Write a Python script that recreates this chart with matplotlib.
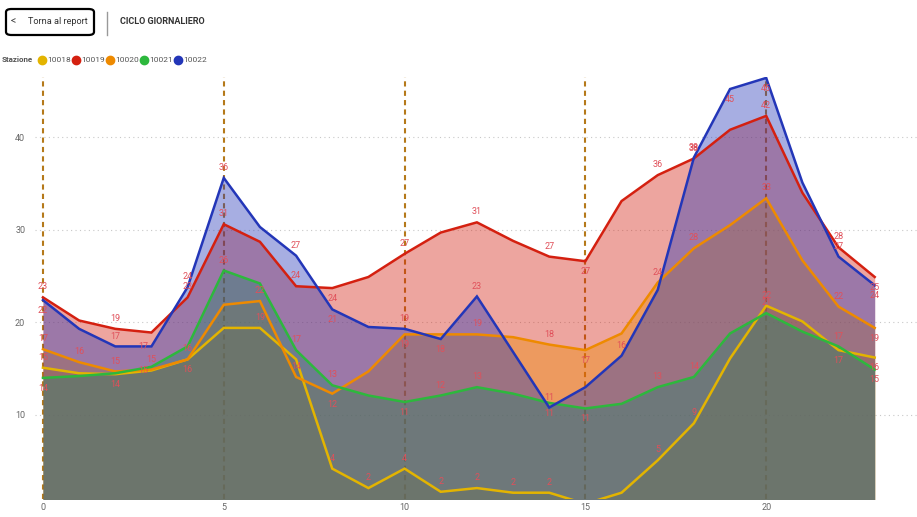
import numpy as np
import matplotlib
matplotlib.use("Agg")
import matplotlib.pyplot as plt
from matplotlib.patches import FancyBboxPatch
from matplotlib.lines import Line2D

plt.rcParams['font.family'] = ['Roboto', 'DejaVu Sans']

hours = list(range(24))
stations = ['10018', '10019', '10020', '10021', '10022']

v10018 = [15.1, 14.5, 14.4, 14.8, 16.0, 19.4, 19.4, 16.0, 4.2, 2.1, 4.2, 1.7, 2.1, 1.6,
          1.6, 0.4, 1.6, 5.1, 9.1, 16.1, 21.8, 20.1, 17.0, 16.2]
v10019 = [22.7, 20.2, 19.3, 18.9, 22.7, 30.6, 28.7, 23.9, 23.7, 24.9, 27.4, 29.7, 30.8, 28.8,
          27.1, 26.6, 33.1, 35.9, 37.7, 40.8, 42.3, 34.0, 28.1, 24.9]
v10020 = [17.1, 15.7, 14.7, 14.9, 16.0, 21.9, 22.3, 14.1, 12.3, 14.7, 18.7, 18.7, 18.7, 18.4,
          17.6, 17.0, 18.8, 24.3, 28.0, 30.5, 33.4, 26.7, 21.7, 19.4]
v10021 = [14.0, 14.2, 14.5, 15.2, 17.4, 25.6, 24.2, 17.0, 13.2, 12.1, 11.4, 12.1, 13.0, 12.3,
          11.3, 10.7, 11.2, 13.0, 14.1, 18.8, 21.0, 19.0, 17.4, 14.9]
v10022 = [22.4, 19.3, 17.4, 17.4, 23.8, 35.6, 30.3, 27.2, 21.4, 19.5, 19.3, 18.2, 22.8, 16.8,
          10.8, 13.0, 16.4, 23.5, 37.8, 45.2, 46.4, 35.1, 27.1, 24.0]
values = [v10018, v10019, v10020, v10021, v10022]
colors = ['#E3B400', '#D42010', '#EE8A00', '#2DB83D', '#2336B8']

# which points show a data label: a = above, b = below, c = on the line
label_pos = [
    {0: 'a', 2: 'b', 3: 'c', 4: 'b', 6: 'a', 8: 'a', 9: 'a', 10: 'a', 11: 'a', 12: 'a',
     13: 'a', 14: 'a', 17: 'a', 18: 'a', 20: 'a', 22: 'b', 23: 'b'},
    {0: 'a', 2: 'a', 4: 'a', 5: 'a', 7: 'a', 8: 'b', 10: 'a', 12: 'a', 14: 'a', 15: 'b',
     17: 'a', 18: 'a', 20: 'a', 22: 'a', 23: 'b'},
    {0: 'a', 1: 'a', 2: 'a', 3: 'a', 4: 'a', 6: 'a', 7: 'a', 8: 'b', 10: 'b', 12: 'a',
     14: 'a', 15: 'b', 17: 'a', 18: 'a', 20: 'a', 22: 'a', 23: 'b'},
    {0: 'b', 5: 'a', 7: 'a', 8: 'a', 10: 'b', 11: 'a', 12: 'a', 14: 'b', 15: 'b', 17: 'a',
     18: 'a', 20: 'a', 22: 'a', 23: 'b'},
    {0: 'b', 2: 'a', 3: 'c', 4: 'a', 5: 'a', 7: 'a', 8: 'b', 10: 'a', 11: 'b', 12: 'a',
     14: 'a', 16: 'a', 18: 'a', 19: 'b', 20: 'b', 22: 'a', 23: 'b'},
]
label_color = '#E0505A'

fig = plt.figure(figsize=(9.17, 5.17), dpi=100)
ax = fig.add_axes([35 / 917, 18 / 517, 882 / 917, 422 / 517])

for h in [0, 5, 10, 15, 20]:
    ax.axvline(h, color='#B5791A', lw=1.5, ls=(0, (2.5, 2)), zorder=0.5)

for vals, c in zip(values, colors):
    ax.fill_between(hours, vals, -5, color=c, alpha=0.4, lw=0, zorder=1)
for vals, c in zip(values, colors):
    ax.plot(hours, vals, color=c, lw=1.8, zorder=2, solid_joinstyle='miter')

for vals, pos in zip(values, label_pos):
    for h, p in pos.items():
        dy = {'a': 7.5, 'b': -7.5, 'c': 0}[p]
        dx = -6 if p == 'c' else 0
        ax.annotate(str(int(round(vals[h]))), (h, vals[h]), xytext=(dx, dy),
                    textcoords='offset points', ha='center', va='center',
                    fontsize=6.5, color=label_color, zorder=3)

ax.set_xlim(-0.22, 24.17)
ax.set_ylim(0.92, 46.5)
ax.set_xticks([0, 5, 10, 15, 20])
ax.set_yticks([10, 20, 30, 40])
ax.yaxis.grid(True, color='#C8C8C8', ls=(0, (1, 3)), lw=0.8)
ax.set_axisbelow(True)
for s in ax.spines.values():
    s.set_visible(False)
ax.tick_params(length=0, labelsize=6.5, labelcolor='#666666')
ax.tick_params(axis='y', pad=7)
ax.tick_params(axis='x', pad=3)

# header
W, H = 917, 517
btn = FancyBboxPatch((6 / W, 1 - 35 / H), 88 / W, 26 / H, transform=fig.transFigure,
                     boxstyle='round,pad=0,rounding_size=0.006', fc='white', ec='black', lw=1.6)
fig.add_artist(btn)
fig.text(13 / W, 1 - 21 / H, '<', fontsize=7.5, color='#444444', va='center', ha='center')
fig.text(28 / W, 1 - 22 / H, 'Torna al report', fontsize=6.6, color='#333333', va='center')
fig.add_artist(Line2D([107 / W, 107 / W], [1 - 12 / H, 1 - 35 / H], color='#999999', lw=1,
                      transform=fig.transFigure))
fig.text(120 / W, 1 - 22 / H, 'CICLO GIORNALIERO', fontsize=6.5, color='#333333',
         va='center', fontweight='bold')

# legend
ly = 1 - 60 / H
fig.text(2 / W, ly, 'Stazione', fontsize=5.8, color='#555555', va='center', fontweight='bold')
lx = [42, 76, 110, 144, 178]
for x, c, s in zip(lx, colors, stations):
    fig.add_artist(Line2D([x / W], [ly], marker='o', ms=6, color=c, mec=c,
                          transform=fig.transFigure))
    fig.text((x + 5) / W, ly, s, fontsize=6, color='#555555', va='center')

fig.savefig('out.png', dpi=100)
